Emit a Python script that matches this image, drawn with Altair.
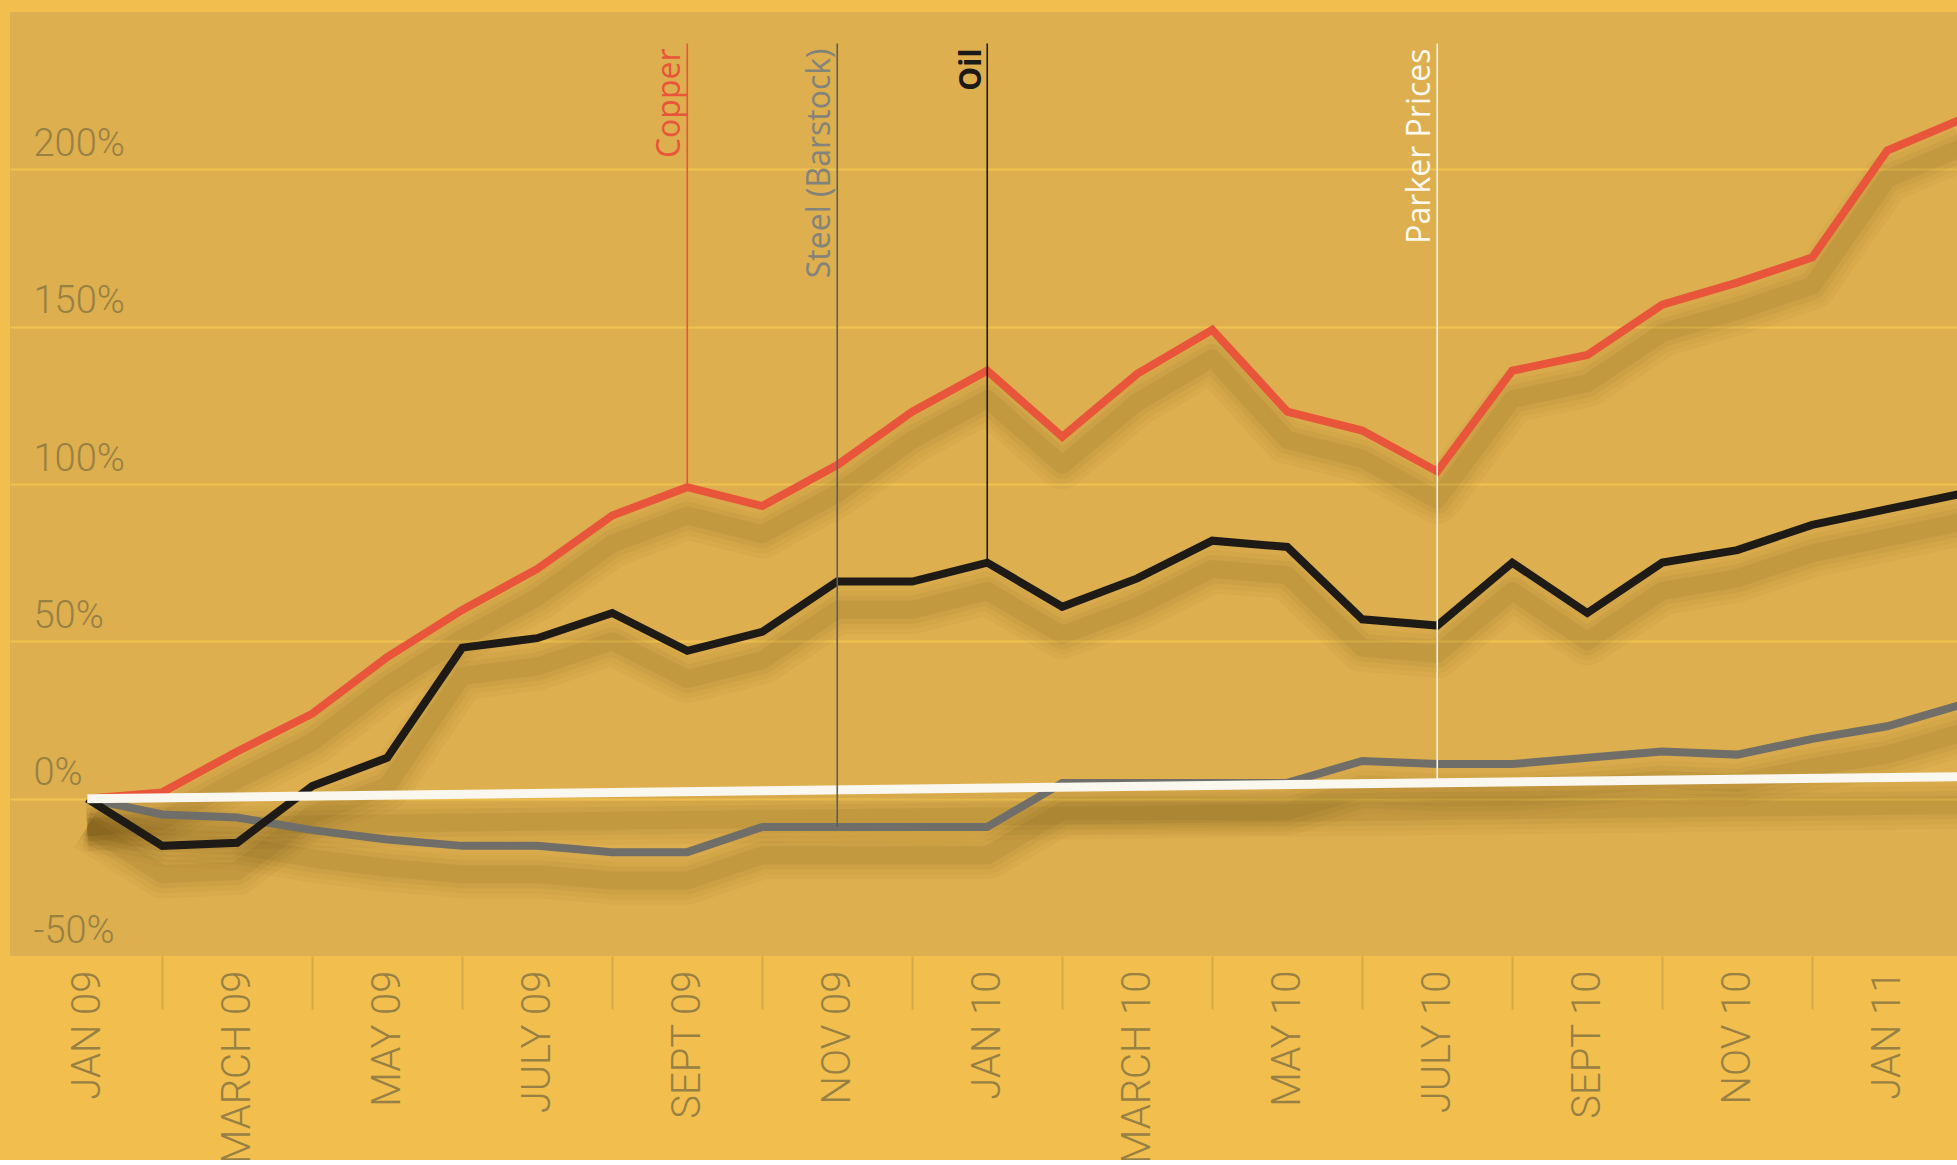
import altair as alt
import pandas as pd

# ---- data (monthly, JAN 09 = index 0) ----
tick_labels = ["JAN 09", "MARCH 09", "MAY 09", "JULY 09", "SEPT 09", "NOV 09",
               "JAN 10", "MARCH 10", "MAY 10", "JULY 10", "SEPT 10", "NOV 10", "JAN 11"]
month_index = list(range(26))  # JAN 09 ... FEB 11
copper = [0, 2, 15, 27, 45, 60, 73, 90, 99, 93, 106, 123, 136, 115, 135, 149,
          123, 117, 104, 136, 141, 157, 164, 172, 206, 216]
oil = [0, -15, -14, 4, 13, 48, 51, 59, 47, 53, 69, 69, 75, 61, 70, 82,
       80, 57, 55, 75, 59, 75, 79, 87, 92, 97]
steel = [0, -5, -6, -10, -13, -15, -15, -17, -17, -9, -9, -9, -9, 5, 5, 5,
         5, 12, 11, 11, 13, 15, 14, 19, 23, 30]
parker_index = [0, 25]
parker = [0, 7]

ann_names = ["Copper", "Steel (Barstock)", "Oil", "Parker Prices"]
ann_index = [8, 10, 12, 18]
ann_top = [240, 240, 240, 240]
ann_end = [99, -9, 75, 5]
ann_text_color = ["#E8553A", "#82837A", "#1C1A16", "#FBF8EF"]
ann_line_color = ["#E8553A", "#5E5E56", "#1C1A16", "#FBF8EF"]
ann_bold = [False, False, True, False]

# ---- styles ----
BG = "#F2BE4D"
PLOT = "#DEAF4E"
GRID = "#F0C350"
LABEL = "#978044"
COLORS = {"Steel": "#6F6E69", "Oil": "#1E1B16", "Copper": "#E8553A", "Parker": "#FAF7EF"}

frames = []
for name, xs, ys in [("Steel", month_index, steel), ("Oil", month_index, oil),
                     ("Copper", month_index, copper), ("Parker", parker_index, parker)]:
    frames.append(pd.DataFrame({"series": name, "idx": xs, "value": ys}))
lines_df = pd.concat(frames, ignore_index=True)

ann_df = pd.DataFrame({"name": ann_names, "idx": ann_index, "top": ann_top, "end": ann_end,
                       "tcolor": ann_text_color, "lcolor": ann_line_color, "bold": ann_bold})

label_arr = "[" + ",".join("'" + t + "'" for t in tick_labels) + "]"

x_scale = alt.Scale(domain=[-1.03, 24.93], nice=False, zero=False)
y_scale = alt.Scale(domain=[-50, 250], nice=False, zero=False)

x_axis = alt.Axis(
    values=list(range(0, 25)),
    labelExpr=f"datum.value % 2 === 0 ? {label_arr}[datum.value / 2] : ''",
    tickColor={"condition": {"test": "datum.value % 2 === 1", "value": "#D6A948"}, "value": "transparent"},
    tickSize=53, tickWidth=2,
    labelAngle=270, labelAlign="right", labelBaseline="middle",
    labelPadding=-39, labelFont="Roboto", labelFontWeight=300, labelFontSize=40,
    labelColor=LABEL, labelOverlap=False, labelFlush=False, labelBound=False,
    labelLimit=1000,
    domain=False, grid=False, title=None,
)
y_axis = alt.Axis(
    values=[-50, 0, 50, 100, 150, 200],
    labelExpr="datum.value + '%'",
    grid=True, gridWidth=2,
    gridColor={"condition": {"test": "datum.value === -50", "value": "transparent"}, "value": GRID},
    ticks=False, domain=False,
    labelAlign="left", labelPadding=-23, labelBaseline="alphabetic", labelOffset=-14,
    labelFont="Roboto", labelFontWeight=300, labelFontSize=38, labelColor=LABEL,
    labelOverlap=False, labelFlush=False, labelBound=False, labelLimit=1000, title=None,
)

base = alt.Chart(lines_df)

# axes carrier (invisible)
axes_layer = base.mark_line(opacity=0).encode(
    x=alt.X("idx:Q", scale=x_scale, axis=x_axis),
    y=alt.Y("value:Q", scale=y_scale, axis=y_axis),
    detail="series:N",
)

# soft blurred shadows below the lines (concentric strokes = blur)
shadow_layers = []
for width, op in [(48, 0.03), (38, 0.035), (28, 0.045), (18, 0.055)]:
    shadow_layers.append(
        base.transform_calculate(sy="datum.value - 9").mark_line(
            strokeWidth=width, opacity=op, color="#3F2C05", clip=True,
            strokeJoin="round", strokeCap="butt"
        ).encode(x=alt.X("idx:Q", scale=x_scale), y=alt.Y("sy:Q", scale=y_scale), detail="series:N")
    )

line_layers = []
for name in ["Steel", "Oil", "Copper", "Parker"]:
    line_layers.append(
        base.transform_filter(alt.datum.series == name).mark_line(
            strokeWidth=8 if name != "Parker" else 9, color=COLORS[name], clip=True,
            strokeJoin="miter", strokeCap="butt"
        ).encode(x=alt.X("idx:Q", scale=x_scale), y=alt.Y("value:Q", scale=y_scale))
    )

ann_base = alt.Chart(ann_df)
ann_rules = ann_base.mark_rule(strokeWidth=1.6).encode(
    x=alt.X("idx:Q", scale=x_scale),
    y=alt.Y("top:Q", scale=y_scale),
    y2="end:Q",
    color=alt.Color("lcolor:N", scale=None),
)
ann_text_normal = ann_base.transform_filter("!datum.bold").mark_text(
    angle=270, align="right", baseline="bottom", dx=-5,
    font="Open Sans", fontSize=32, fontWeight=500,
).encode(
    x=alt.X("idx:Q", scale=x_scale), y=alt.Y("top:Q", scale=y_scale),
    text="name:N", color=alt.Color("tcolor:N", scale=None),
)
ann_text_bold = ann_base.transform_filter("datum.bold").mark_text(
    angle=270, align="right", baseline="bottom", dx=-5,
    font="Open Sans", fontSize=30, fontWeight="bold",
).encode(
    x=alt.X("idx:Q", scale=x_scale), y=alt.Y("top:Q", scale=y_scale),
    text="name:N", color=alt.Color("tcolor:N", scale=None),
)

chart = alt.layer(
    axes_layer, *shadow_layers, *line_layers, ann_rules, ann_text_normal, ann_text_bold
).properties(
    width=1947, height=944,
    autosize=alt.AutoSizeParams(type="none"),
    padding={"left": 10, "top": 12, "right": 0, "bottom": 204},
).configure(
    background=BG,
).configure_view(
    fill=PLOT, stroke=None,
)

chart.save("out.html", embed_options={"renderer": "svg", "actions": False})
